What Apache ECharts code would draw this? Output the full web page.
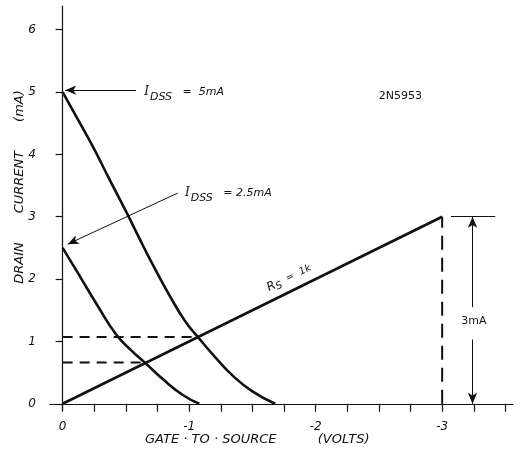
<!DOCTYPE html>
<html>
<head>
<meta charset="utf-8">
<script src="https://cdn.jsdelivr.net/npm/echarts@6/dist/echarts.min.js"></script>
<style>
  html, body { margin: 0; padding: 0; background: #fff; }
  #chart { width: 526px; height: 463px; }
</style>
</head>
<body>
<div id="chart"></div>
<script>
// transfer curves (VGS volts, ID mA)
var curve5mA = [[0, 5], [-0.12, 4.56], [-0.24, 4.12], [-0.37, 3.6], [-0.51, 3.05], [-0.6, 2.68],
   [-0.7, 2.28], [-0.85, 1.72], [-0.97, 1.32], [-1.07, 1.07], [-1.2, 0.76], [-1.35, 0.44], [-1.5, 0.2], [-1.68, 0]];
var curve25mA = [[0, 2.5], [-0.12, 2.1], [-0.28, 1.56], [-0.42, 1.12], [-0.54, 0.86], [-0.65, 0.66],
   [-0.8, 0.38], [-0.95, 0.14], [-1.08, 0]];
var biasLine = [[0, 0], [-3, 3]];           // Rs = 1k load line
var opHigh = [-1.07, 1.07];                 // operating point on 5mA curve
var opLow = [-0.65, 0.66];                  // operating point on 2.5mA curve
var xTicks = [0, -0.25, -0.5, -0.75, -1, -1.25, -1.5, -1.75, -2, -2.25, -2.5, -2.75, -3, -3.25, -3.5];
var xLabels = [0, -1, -2, -3];
var yTicks = [0, 1, 2, 3, 4, 5, 6];

var ink = '#111';
var fnt = 'DejaVu Sans';

var chart = echarts.init(document.getElementById('chart'));

var dashed = function (data, pattern) {
   return {
      type: 'line', data: data, symbol: 'none', silent: true,
      lineStyle: { color: ink, width: 2, type: pattern }
   };
};

var idssRich = {
   i: { fontSize: 12, fontStyle: 'italic', fontFamily: 'DejaVu Serif' },
   s: { fontSize: 11, padding: [10, 0, 0, 1] },
   t: { fontSize: 11, fontStyle: 'italic' }
};

var option = {
   backgroundColor: '#fff',
   animation: false,
   grid: { left: 50, right: 13, top: 6, bottom: 53 },
   xAxis: {
      type: 'value', inverse: true, min: -3.56, max: 0.1,
      splitLine: { show: false },
      axisLine: { lineStyle: { color: ink, width: 1.2 } },
      axisTick: { customValues: xTicks, length: 8, lineStyle: { color: ink, width: 1.2 } },
      axisLabel: {
         customValues: xLabels, margin: 11, color: ink, fontFamily: fnt, fontSize: 12, fontStyle: 'italic',
         formatter: function (v) { return v === 0 ? '0' : String(v); }
      }
   },
   yAxis: {
      type: 'value', min: -0.1, max: 6.38,
      splitLine: { show: false },
      axisLine: { lineStyle: { color: ink, width: 1.2 } },
      axisTick: { customValues: yTicks, length: 7, lineStyle: { color: ink, width: 1.2 } },
      axisLabel: { customValues: yTicks, margin: 14, color: ink, fontFamily: fnt, fontSize: 12, fontStyle: 'italic' }
   },
   series: [
      {
         type: 'line', data: curve5mA, smooth: 0.5, symbol: 'none', silent: true,
         lineStyle: { color: ink, width: 2.6 },
         markLine: {
            silent: true, symbol: ['none', 'arrow'], symbolSize: [7, 11], label: { show: false },
            lineStyle: { color: ink, width: 1, type: 'solid' },
            data: [
               [{ coord: [-0.58, 5.03] }, { coord: [-0.02, 5.03] }],
               [{ coord: [-0.91, 3.38] }, { coord: [-0.04, 2.56] }],
               [{ coord: [-3.24, 1.55] }, { coord: [-3.24, 3.0] }],
               [{ coord: [-3.24, 1.03] }, { coord: [-3.24, 0.0] }]
            ]
         },
         markPoint: {
            silent: true, symbol: 'circle', symbolSize: 0,
            label: { show: true, color: ink, fontFamily: fnt, fontSize: 11, fontStyle: 'italic' },
            data: [
               { coord: [-0.96, 5.0], value: 1,
                 label: { formatter: '{i|I}{s|DSS}{t|   =  5mA}', rich: idssRich } },
               { coord: [-1.31, 3.38], value: 1,
                 label: { formatter: '{i|I}{s|DSS}{t|   = 2.5mA}', rich: idssRich } },
               { coord: [-2.67, 4.93], value: 1, label: { formatter: '2N5953', fontStyle: 'normal', fontSize: 11 } },
               { coord: [-3.25, 1.33], value: 1, label: { formatter: '3mA', fontStyle: 'normal', fontSize: 11 } },
               { coord: [-1.79, 2.02], value: 1,
                 label: { rotate: 26, formatter: '{r|R}{s|S}{t|  =  1k}', rich: {
                    r: { fontSize: 12 }, s: { fontSize: 10, padding: [6, 0, 0, 0] }, t: { fontSize: 10 } } } }
            ]
         }
      },
      { type: 'line', data: curve25mA, smooth: 0.5, symbol: 'none', silent: true, lineStyle: { color: ink, width: 2.6 } },
      { type: 'line', data: biasLine, symbol: 'none', silent: true, lineStyle: { color: ink, width: 2.6 },
        markLine: {
           silent: true, symbol: 'none', label: { show: false },
           lineStyle: { color: ink, width: 1, type: 'solid' },
           data: [[{ coord: [-3.07, 3] }, { coord: [-3.42, 3] }]]
        } },
      dashed([[0, opHigh[1]], opHigh], [10, 7]),
      dashed([[0, opLow[1]], opLow], [10, 7]),
      dashed([[biasLine[1][0], 0], biasLine[1]], [14, 8])
   ],
   graphic: [
      { type: 'text', left: 145, top: 433, silent: true,
        style: { text: 'GATE · TO · SOURCE          (VOLTS)', fill: ink, font: 'italic 13px "DejaVu Sans"' } },
      { type: 'text', x: 20, y: 187, rotation: Math.PI / 2, silent: true,
        style: { text: 'DRAIN       CURRENT       (mA)', fill: ink, font: 'italic 13px "DejaVu Sans"', align: 'center', verticalAlign: 'middle' } }
   ]
};
chart.setOption(option);
</script>
</body>
</html>
